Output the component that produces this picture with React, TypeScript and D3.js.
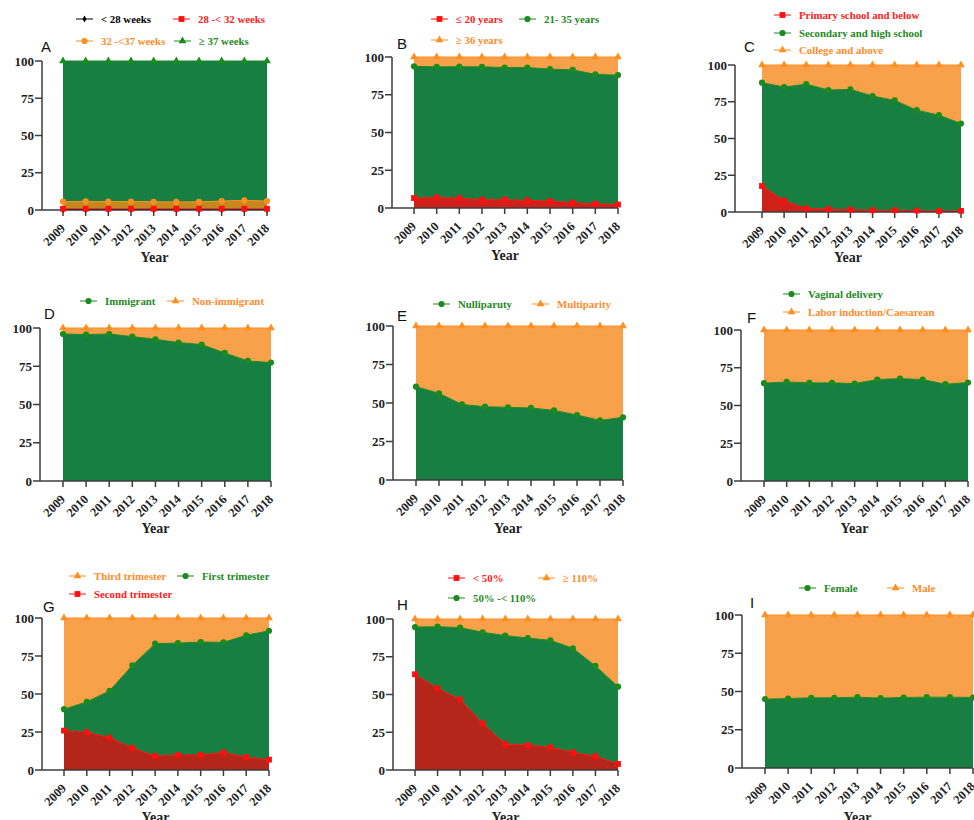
import React from 'react';
import * as d3 from 'd3';

// years on the x axis
const years = [2009, 2010, 2011, 2012, 2013, 2014, 2015, 2016, 2017, 2018];
const yTicks = [0, 25, 50, 75, 100];

// values are the stacked (cumulative) percentages as plotted
// A: gestational age
const aUnder28 = [0.3, 0.3, 0.3, 0.3, 0.3, 0.3, 0.3, 0.3, 0.3, 0.3];
const aTo32 = [0.8, 0.8, 0.8, 0.8, 0.8, 0.8, 0.8, 0.8, 0.8, 0.8];
const aTo37 = [5.6, 5.8, 5.6, 5.7, 5.5, 5.4, 5.5, 6.0, 6.4, 6.0];
const aOver37 = [100, 100, 100, 100, 100, 100, 100, 100, 100, 100];
// B: maternal age
const bUnder20 = [6.6, 7.0, 6.5, 5.5, 5.5, 5.0, 4.6, 3.5, 2.8, 2.3];
const bTo35 = [93.8, 93.5, 93.6, 93.5, 93.0, 93.0, 92.0, 91.5, 88.5, 88.0];
const bOver36 = [100, 100, 100, 100, 100, 100, 100, 100, 100, 100];
// C: education
const cPrimary = [17.7, 7.7, 2.4, 2.0, 1.6, 1.2, 1.2, 1.0, 0.7, 0.8];
const cSecondary = [88.0, 85.0, 87.0, 83.0, 83.4, 78.9, 75.9, 69.3, 65.9, 60.2];
const cCollege = [100, 100, 100, 100, 100, 100, 100, 100, 100, 100];
// D: migration
const dImmigrant = [96.1, 95.7, 96.1, 94.4, 92.6, 90.5, 89.2, 83.7, 78.5, 77.4];
const dNonImmigrant = [100, 100, 100, 100, 100, 100, 100, 100, 100, 100];
// E: parity
const eNulli = [60.6, 56.3, 49.1, 47.6, 47.2, 46.8, 45.2, 42.2, 38.7, 40.7];
const eMulti = [100, 100, 100, 100, 100, 100, 100, 100, 100, 100];
// F: delivery mode
const fVaginal = [64.8, 65.6, 65.0, 65.0, 64.5, 67.2, 67.8, 67.2, 64.1, 65.2];
const fInduction = [100, 100, 100, 100, 100, 100, 100, 100, 100, 100];
// G: trimester
const gSecond = [25.9, 24.8, 21.3, 14.5, 9.2, 9.9, 9.9, 11.6, 8.4, 6.8];
const gFirst = [40.0, 44.8, 52.1, 68.8, 83.1, 83.5, 84.2, 84.0, 88.6, 91.6];
const gThird = [100, 100, 100, 100, 100, 100, 100, 100, 100, 100];
// H: percentage group
const hUnder50 = [63.4, 54.1, 46.8, 30.9, 17.2, 16.6, 15.0, 11.7, 9.1, 4.0];
const hTo110 = [94.7, 94.9, 94.3, 91.2, 89.0, 87.4, 85.9, 80.6, 68.9, 55.2];
const hOver110 = [100, 100, 100, 100, 100, 100, 100, 100, 100, 100];
// I: sex
const iFemale = [45.0, 45.4, 45.9, 45.9, 46.3, 45.7, 46.1, 46.3, 46.3, 46.1];
const iMale = [100, 100, 100, 100, 100, 100, 100, 100, 100, 100];

const GREEN = '#167f41';
const ORANGE = '#f9a04a';
const RED_B = '#cf201a';
const RED_G = '#b4261a';
const MK_GREEN = '#1b8a1f';
const MK_RED = '#ff0f0f';
const MK_ORANGE = '#ff8f1f';
const TXT_GREEN = '#1e8a22';
const TXT_RED = '#ff2020';
const TXT_ORANGE = '#ff8c2a';

const SERIF = '"Liberation Serif", "Times New Roman", serif';
const SANS = '"Liberation Sans", Arial, sans-serif';

const shapes: any = {
  circle: d3.symbol(d3.symbolCircle, 30),
  square: d3.symbol(d3.symbolSquare, 34),
  triangle: d3.symbol(d3.symbolTriangle, 26),
  diamond: d3.symbol(d3.symbolDiamond, 14),
};

type Layer = { values: number[]; fill: string; color: string; shape: string };
type Legend = { text: string; color: string; textColor: string; shape: string; x: number; y: number };
type Panel = {
  label: string; axisX: number; x0: number; x1: number; yTop: number; yBottom: number;
  labelX: number; labelY: number; yearY: number; layers: Layer[]; legends: Legend[];
};

const panels: Panel[] = [
  {
    label: 'A', axisX: 42, x0: 63, x1: 267, yTop: 61, yBottom: 210, labelX: 41, labelY: 52, yearY: 262,
    layers: [
      { values: aUnder28, fill: '#222', color: '#000', shape: 'diamond' },
      { values: aTo32, fill: RED_B, color: MK_RED, shape: 'square' },
      { values: aTo37, fill: '#c8861f', color: MK_ORANGE, shape: 'circle' },
      { values: aOver37, fill: GREEN, color: MK_GREEN, shape: 'triangle' },
    ],
    legends: [
      { text: '< 28 weeks', color: '#000', textColor: '#000', shape: 'diamond', x: 76, y: 19 },
      { text: '28 -< 32 weeks', color: MK_RED, textColor: TXT_RED, shape: 'square', x: 173, y: 19 },
      { text: '32 -<37 weeks', color: MK_ORANGE, textColor: TXT_ORANGE, shape: 'circle', x: 76, y: 41 },
      { text: '≥ 37 weeks', color: MK_GREEN, textColor: TXT_GREEN, shape: 'triangle', x: 174, y: 41 },
    ],
  },
  {
    label: 'B', axisX: 392, x0: 414, x1: 618, yTop: 57, yBottom: 208, labelX: 397, labelY: 49, yearY: 260,
    layers: [
      { values: bUnder20, fill: RED_B, color: MK_RED, shape: 'square' },
      { values: bTo35, fill: GREEN, color: MK_GREEN, shape: 'circle' },
      { values: bOver36, fill: ORANGE, color: MK_ORANGE, shape: 'triangle' },
    ],
    legends: [
      { text: '≤ 20 years', color: MK_RED, textColor: TXT_RED, shape: 'square', x: 431, y: 19 },
      { text: '21- 35 years', color: MK_GREEN, textColor: TXT_GREEN, shape: 'circle', x: 519, y: 19 },
      { text: '≥ 36 years', color: MK_ORANGE, textColor: TXT_ORANGE, shape: 'triangle', x: 431, y: 40 },
    ],
  },
  {
    label: 'C', axisX: 735, x0: 762, x1: 961, yTop: 65, yBottom: 212, labelX: 744, labelY: 52, yearY: 262,
    layers: [
      { values: cPrimary, fill: RED_B, color: MK_RED, shape: 'square' },
      { values: cSecondary, fill: GREEN, color: MK_GREEN, shape: 'circle' },
      { values: cCollege, fill: ORANGE, color: MK_ORANGE, shape: 'triangle' },
    ],
    legends: [
      { text: 'Primary school and below', color: MK_RED, textColor: TXT_RED, shape: 'square', x: 774, y: 15 },
      { text: 'Secondary and high school', color: MK_GREEN, textColor: TXT_GREEN, shape: 'circle', x: 774, y: 33 },
      { text: 'College and above', color: MK_ORANGE, textColor: TXT_ORANGE, shape: 'triangle', x: 774, y: 50 },
    ],
  },
  {
    label: 'D', axisX: 40, x0: 63, x1: 271, yTop: 328, yBottom: 481, labelX: 44, labelY: 319, yearY: 533,
    layers: [
      { values: dImmigrant, fill: GREEN, color: MK_GREEN, shape: 'circle' },
      { values: dNonImmigrant, fill: ORANGE, color: MK_ORANGE, shape: 'triangle' },
    ],
    legends: [
      { text: 'Immigrant', color: MK_GREEN, textColor: TXT_GREEN, shape: 'circle', x: 80, y: 301 },
      { text: 'Non-immigrant', color: MK_ORANGE, textColor: TXT_ORANGE, shape: 'triangle', x: 167, y: 301 },
    ],
  },
  {
    label: 'E', axisX: 393, x0: 416, x1: 623, yTop: 326, yBottom: 480, labelX: 397, labelY: 321, yearY: 533,
    layers: [
      { values: eNulli, fill: GREEN, color: MK_GREEN, shape: 'circle' },
      { values: eMulti, fill: ORANGE, color: MK_ORANGE, shape: 'triangle' },
    ],
    legends: [
      { text: 'Nulliparuty', color: MK_GREEN, textColor: TXT_GREEN, shape: 'circle', x: 433, y: 304 },
      { text: 'Multiparity', color: MK_ORANGE, textColor: TXT_ORANGE, shape: 'triangle', x: 532, y: 304 },
    ],
  },
  {
    label: 'F', axisX: 741, x0: 764, x1: 968, yTop: 330, yBottom: 481, labelX: 747, labelY: 323, yearY: 533,
    layers: [
      { values: fVaginal, fill: GREEN, color: MK_GREEN, shape: 'circle' },
      { values: fInduction, fill: ORANGE, color: MK_ORANGE, shape: 'triangle' },
    ],
    legends: [
      { text: 'Vaginal delivery', color: MK_GREEN, textColor: TXT_GREEN, shape: 'circle', x: 783, y: 294 },
      { text: 'Labor induction/Caesarean', color: MK_ORANGE, textColor: TXT_ORANGE, shape: 'triangle', x: 783, y: 312 },
    ],
  },
  {
    label: 'G', axisX: 42, x0: 64, x1: 269, yTop: 618, yBottom: 770, labelX: 43, labelY: 612, yearY: 822,
    layers: [
      { values: gSecond, fill: RED_G, color: MK_RED, shape: 'square' },
      { values: gFirst, fill: GREEN, color: MK_GREEN, shape: 'circle' },
      { values: gThird, fill: ORANGE, color: MK_ORANGE, shape: 'triangle' },
    ],
    legends: [
      { text: 'Third trimester', color: MK_ORANGE, textColor: TXT_ORANGE, shape: 'triangle', x: 69, y: 576 },
      { text: 'First trimester', color: MK_GREEN, textColor: TXT_GREEN, shape: 'circle', x: 177, y: 576 },
      { text: 'Second trimester', color: MK_RED, textColor: TXT_RED, shape: 'square', x: 69, y: 594 },
    ],
  },
  {
    label: 'H', axisX: 393, x0: 415, x1: 618, yTop: 619, yBottom: 770, labelX: 397, labelY: 610, yearY: 822,
    layers: [
      { values: hUnder50, fill: RED_G, color: MK_RED, shape: 'square' },
      { values: hTo110, fill: GREEN, color: MK_GREEN, shape: 'circle' },
      { values: hOver110, fill: ORANGE, color: MK_ORANGE, shape: 'triangle' },
    ],
    legends: [
      { text: '< 50%', color: MK_RED, textColor: TXT_RED, shape: 'square', x: 448, y: 578 },
      { text: '≥ 110%', color: MK_ORANGE, textColor: TXT_ORANGE, shape: 'triangle', x: 538, y: 578 },
      { text: '50% -< 110%', color: MK_GREEN, textColor: TXT_GREEN, shape: 'circle', x: 448, y: 598 },
    ],
  },
  {
    label: 'I', axisX: 742, x0: 765, x1: 973, yTop: 615, yBottom: 768, labelX: 750, labelY: 608, yearY: 822,
    layers: [
      { values: iFemale, fill: GREEN, color: MK_GREEN, shape: 'circle' },
      { values: iMale, fill: ORANGE, color: MK_ORANGE, shape: 'triangle' },
    ],
    legends: [
      { text: 'Female', color: MK_GREEN, textColor: TXT_GREEN, shape: 'circle', x: 799, y: 588 },
      { text: 'Male', color: MK_ORANGE, textColor: TXT_ORANGE, shape: 'triangle', x: 887, y: 588 },
    ],
  },
];

const AXIS = '#3c3c3c';

const PanelChart = ({ p }: { p: Panel }) => {
  const x = d3.scaleLinear().domain([years[0], years[years.length - 1]]).range([p.x0, p.x1]);
  const y = d3.scaleLinear().domain([0, 100]).range([p.yBottom, p.yTop]);

  const areas = p.layers.map((layer, li) => {
    const below = li === 0 ? years.map(() => 0) : p.layers[li - 1].values;
    const area = d3.area<number>()
      .x((d, i) => x(years[i]))
      .y0((d, i) => y(below[i]))
      .y1((d) => y(d));
    return area(layer.values) as string;
  });
  const line = d3.line<number>().x((d, i) => x(years[i])).y((d) => y(d));

  return (
    <g>
      {p.layers.map((layer, li) => (
        <path key={'a' + li} d={areas[li]} fill={layer.fill} stroke="none" />
      ))}
      {p.layers.map((layer, li) => (
        <path key={'l' + li} d={line(layer.values) as string} fill="none" stroke={layer.color} strokeWidth={1} />
      ))}
      {/* axes */}
      <line x1={p.axisX} x2={p.axisX} y1={p.yTop} y2={p.yBottom} stroke={AXIS} strokeWidth={1.5} />
      <line x1={p.axisX} x2={p.x1} y1={p.yBottom} y2={p.yBottom} stroke={AXIS} strokeWidth={1.5} />
      {yTicks.map((t) => (
        <g key={'yt' + t}>
          <line x1={p.axisX - 7} x2={p.axisX} y1={y(t)} y2={y(t)} stroke={AXIS} strokeWidth={1.5} />
          <text x={p.axisX - 8} y={y(t) + 4.5} textAnchor="end" fontFamily={SERIF} fontWeight="bold" fontSize={13} fill="#222">{t}</text>
        </g>
      ))}
      {years.map((yr) => (
        <g key={'xt' + yr}>
          <line x1={x(yr)} x2={x(yr)} y1={p.yBottom} y2={p.yBottom + 6} stroke={AXIS} strokeWidth={1.5} />
          <text transform={`translate(${x(yr) + 3},${p.yBottom + 19}) rotate(-45)`} textAnchor="end"
            fontFamily={SERIF} fontWeight="bold" fontSize={12.5} fill="#222">{yr}</text>
        </g>
      ))}
      <text x={(p.axisX + p.x1) / 2} y={p.yearY} textAnchor="middle" fontFamily={SERIF} fontWeight="bold" fontSize={14} fill="#222">Year</text>
      {/* markers */}
      {p.layers.map((layer, li) => layer.values.map((v, i) => (
        <path key={'m' + li + '-' + i} d={shapes[layer.shape]()} transform={`translate(${x(years[i])},${y(v)})`} fill={layer.color} />
      )))}
      <text x={p.labelX} y={p.labelY} fontFamily={SANS} fontSize={15} fill="#111">{p.label}</text>
      {p.legends.map((lg, i) => (
        <g key={'lg' + i}>
          <line x1={lg.x} x2={lg.x + 17} y1={lg.y} y2={lg.y} stroke={lg.color} strokeWidth={1} />
          <path d={shapes[lg.shape]()} transform={`translate(${lg.x + 8.5},${lg.y})`} fill={lg.color} />
          <text x={lg.x + 25} y={lg.y + 4} fontFamily={SERIF} fontWeight="bold" fontSize={10.8} fill={lg.textColor}>{lg.text}</text>
        </g>
      ))}
    </g>
  );
};

export default function App() {
  return (
    <svg width={974} height={820} style={{ position: 'absolute', left: 0, top: 0, background: '#fff' }}>
      <rect width={974} height={820} fill="#fff" />
      {panels.map((p) => <PanelChart key={p.label} p={p} />)}
    </svg>
  );
}
